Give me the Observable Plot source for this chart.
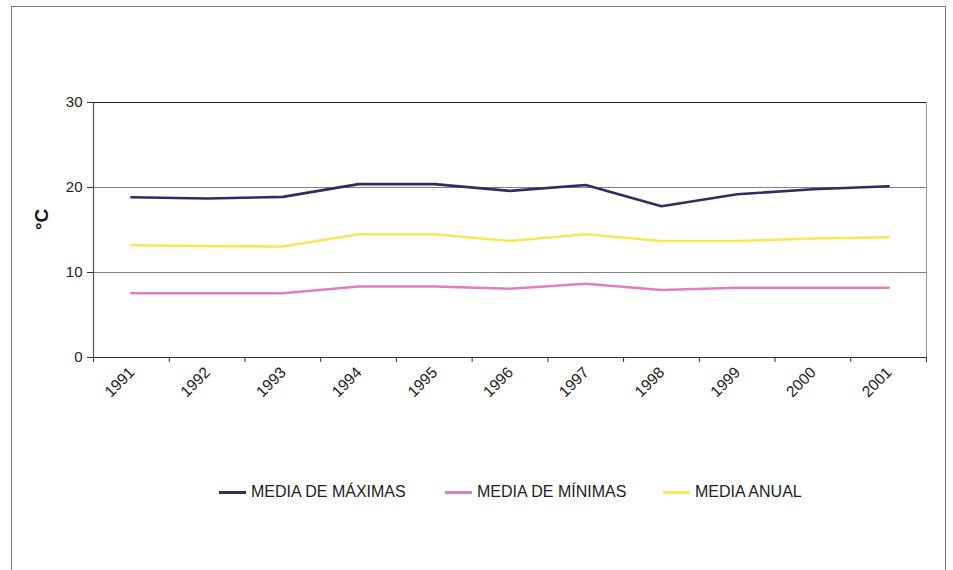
<!DOCTYPE html>
<html>
<head>
<meta charset="utf-8">
<script src="https://cdn.jsdelivr.net/npm/d3@7"></script>
<script src="https://cdn.jsdelivr.net/npm/@observablehq/plot@0.6"></script>
<style>
  body { margin: 0; background: #fff; font-family: "Liberation Sans", Arial, sans-serif; }
  #frame { position: absolute; left: 11px; top: 6px; width: 933px; height: 600px; border: 1px solid #7a7a7a; background: #fff; }
  #chart { position: absolute; left: 0; top: 0; }
  #legend { position: absolute; left: 0; top: 476px; width: 933px; height: 22px; font-size: 16px; color: #222; }
  .item { position: absolute; top: 0; display: flex; align-items: center; white-space: nowrap; }
  .sw { width: 27px; height: 0; border-top: 3px solid; margin-right: 5px; }
</style>
</head>
<body>
<div id="frame">
  <div id="chart"></div>
  <div id="legend"></div>
</div>
<script>
const years = [1991, 1992, 1993, 1994, 1995, 1996, 1997, 1998, 1999, 2000, 2001];
const mediaMaximas = [18.85, 18.7, 18.9, 20.4, 20.4, 19.6, 20.3, 17.8, 19.2, 19.8, 20.15];
const mediaMinimas = [7.56, 7.56, 7.56, 8.35, 8.35, 8.08, 8.67, 7.95, 8.2, 8.2, 8.2];
const mediaAnual = [13.2, 13.1, 13.05, 14.5, 14.5, 13.7, 14.5, 13.7, 13.7, 14.0, 14.15];
const seriesNames = ["MEDIA DE MÁXIMAS", "MEDIA DE MÍNIMAS", "MEDIA ANUAL"];
const seriesColors = ["#2c2f60", "#dd80bd", "#f5e95a"];
const yTicks = [0, 10, 20, 30];
const yLabel = "°C";

const seriesValues = [mediaMaximas, mediaMinimas, mediaAnual];
const data = seriesNames.flatMap((s, i) => years.map((y, j) => ({serie: s, year: y, value: seriesValues[i][j]})));
const boundaries = [...years.map(y => y - 0.5), years[years.length - 1] + 0.5];

const chart = Plot.plot({
  width: 933,
  height: 440,
  marginLeft: 81,
  marginRight: 19,
  marginTop: 95,
  marginBottom: 90,
  style: {fontFamily: "'Liberation Sans', Arial, sans-serif", fontSize: "15px", color: "#222", background: "transparent"},
  x: {type: "linear", domain: [years[0] - 0.5, years[years.length - 1] + 0.5]},
  y: {domain: [0, 30]},
  color: {domain: seriesNames, range: seriesColors},
  marks: [
    Plot.frame({stroke: "#999"}),
    Plot.ruleY([10, 20], {stroke: "#808080", strokeWidth: 1.2}),
    Plot.ruleY([30], {stroke: "#222", strokeWidth: 1.2}),
    Plot.ruleY([0], {stroke: "#333", strokeWidth: 1.2}),
    Plot.ruleX(boundaries.slice(0, 1), {stroke: "#555", strokeWidth: 1.2}),
    Plot.axisY({ticks: yTicks, tickSize: 6, tickPadding: 5, label: null, fontSize: 15, stroke: "#333"}),
    Plot.axisX({ticks: boundaries, tickSize: 5, tickFormat: () => "", label: null, stroke: "#333"}),
    Plot.text(years, {x: d => d, frameAnchor: "bottom", text: d => String(d), rotate: -45, textAnchor: "end", dx: 4, dy: 16, fontSize: 15.5, fill: "#222"}),
    Plot.text([yLabel], {frameAnchor: "left", text: d => d, rotate: -90, dx: -52, fontSize: 19, fontWeight: "bold", fill: "#111"}),
    Plot.line(data, {x: "year", y: "value", z: "serie", stroke: "serie", strokeWidth: 2.6, curve: "linear"})
  ]
});
document.getElementById("chart").appendChild(chart);

const legendLefts = [207, 433, 651];
const legend = document.getElementById("legend");
seriesNames.forEach((s, i) => {
  const item = document.createElement("div");
  item.className = "item";
  item.style.left = legendLefts[i] + "px";
  const sw = document.createElement("div");
  sw.className = "sw";
  sw.style.borderTopColor = seriesColors[i];
  const t = document.createElement("span");
  t.textContent = s;
  item.appendChild(sw);
  item.appendChild(t);
  legend.appendChild(item);
});
</script>
</body>
</html>
